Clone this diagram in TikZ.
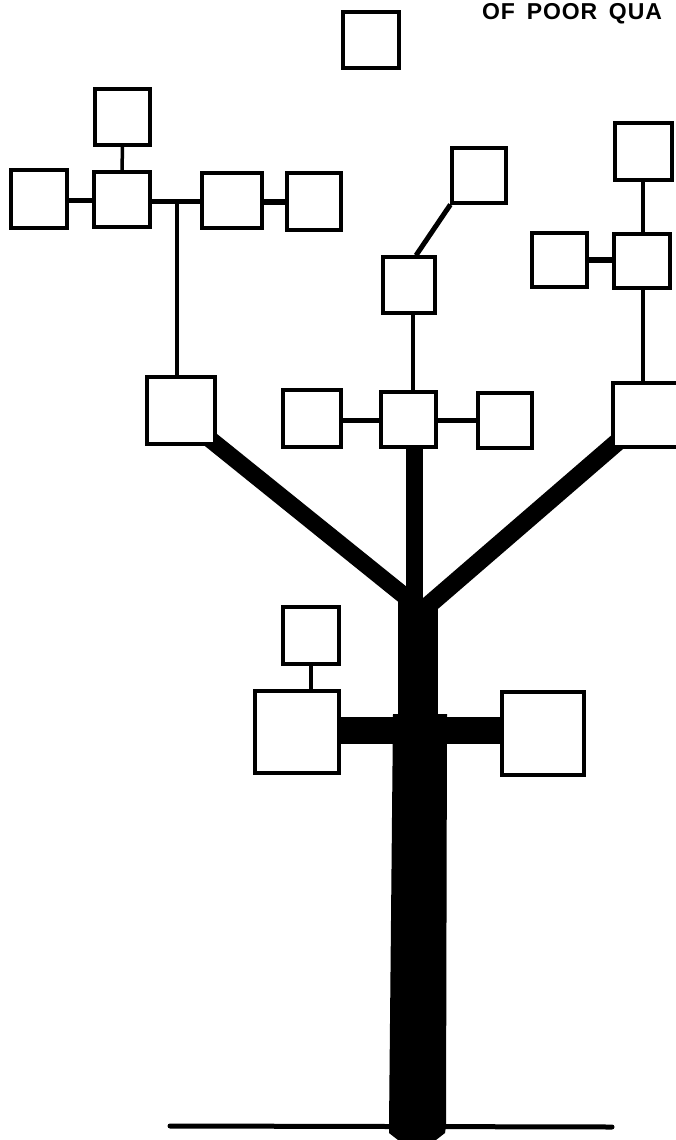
\documentclass[tikz,border=0pt]{standalone}
\usepackage{fontspec}
\newfontfamily\stampfont[LetterSpace=4,WordSpace=1.6]{Liberation Sans}
\tikzset{
  box/.style={draw=black, fill=white, line width=3.2pt, inner sep=0pt, minimum width=#1},
  box/.default=56pt,
  thin/.style={line width=3.5pt},
  mid/.style={line width=5pt},
  limb/.style={line width=16pt, line cap=butt},
}
\begin{document}
\begin{tikzpicture}[x=1pt,y=-1pt]
\useasboundingbox (0,0) rectangle (676,1140);

% ---------- heavy trunk and limbs ----------
\draw[limb, line width=17pt] (206,436) -- (412,602);
\draw[limb, line width=17pt] (414,440) -- (414,612);
\draw[limb, line width=18pt] (622,438) -- (416,616);
\fill (398,598) rectangle (438,720);
\fill (393,714) -- (447,714) -- (446,1126) -- (445,1133) -- (436,1140)
      -- (398,1140) -- (389,1133) -- (389,1126) -- cycle;
\coordinate (barL) at (336,730.5);
\coordinate (barR) at (505,730.5);
\draw[line width=27pt] (barL) -- (barR);
\coordinate (g1) at (170,1126);
\coordinate (g2) at (612,1127);
\draw[line width=5pt, line cap=round] (g1) -- (g2);

% ---------- boxes ----------
\node[box=56pt, minimum height=56pt] (t0)  at (371,40) {};
\node[box=55pt, minimum height=56pt] (lt)  at (122.5,117) {};
\node[box=56pt, minimum height=58pt] (ll)  at (39,199) {};
\node[box=56pt, minimum height=55pt] (lc)  at (122,199.5) {};
\node[box=60pt, minimum height=55pt] (lr1) at (232,200.5) {};
\node[box=54pt, minimum height=57pt] (lr2) at (314,201.5) {};
\node[box=54pt, minimum height=55pt] (mt)  at (479,175.5) {};
\node[box=52pt, minimum height=56pt] (mu)  at (409,285) {};
\node[box=57pt, minimum height=57pt] (rt)  at (643.5,151.5) {};
\node[box=55pt, minimum height=54pt] (rl)  at (559.5,260) {};
\node[box=56pt, minimum height=54pt] (rc)  at (642,261) {};
\node[box=68pt, minimum height=67pt] (lb)  at (181,410.5) {};
\node[box=58pt, minimum height=57pt] (ml)  at (312,418.5) {};
\node[box=55pt, minimum height=55pt] (mc)  at (408.5,419.5) {};
\node[box=54pt, minimum height=55pt] (mr)  at (505,420.5) {};
\node[box=68pt, minimum height=64pt] (rb)  at (647,415) {};
\node[box=56pt, minimum height=57pt] (sb)  at (311,635.5) {};
\node[box=84pt, minimum height=82pt] (lbig) at (297,732) {};
\node[box=82pt, minimum height=83pt] (rbig) at (543,733.5) {};

% ---------- connectors ----------
\draw[thin] (lt.south) -- (lc.north);
\draw[mid] (ll.east |- 0,200) -- (lc.west |- 0,200);
\draw[mid] (lc.east |- 0,201) -- (lr1.west |- 0,201);
\draw[mid, line width=6pt] (lr1.east |- 0,202) -- (lr2.west |- 0,202);
\coordinate (lj) at (177,201);
\draw[thin] (lj) -- (lb.north -| lj);
\draw[mid] (mu.north -| 416,0) -- (mt.south west);
\draw[thin] (mu.south -| 413,0) -- (mc.north -| 413,0);
\draw[mid] (ml.east |- 0,420) -- (mc.west |- 0,420);
\draw[mid] (mc.east |- 0,420) -- (mr.west |- 0,420);
\draw[thin] (rt.south -| 643,0) -- (rc.north -| 643,0);
\draw[mid, line width=6pt] (rl.east |- 0,260) -- (rc.west |- 0,260);
\draw[thin] (rc.south -| 643,0) -- (rb.north -| 643,0);
\draw[thin] (sb.south) -- (lbig.north -| sb.south);

% ---------- stamp text ----------
\node[anchor=base west, inner sep=0pt, font=\stampfont\bfseries\fontsize{23}{23}\selectfont] (stamp) at (482,20) {OF POOR QUA};
\end{tikzpicture}
\end{document}
